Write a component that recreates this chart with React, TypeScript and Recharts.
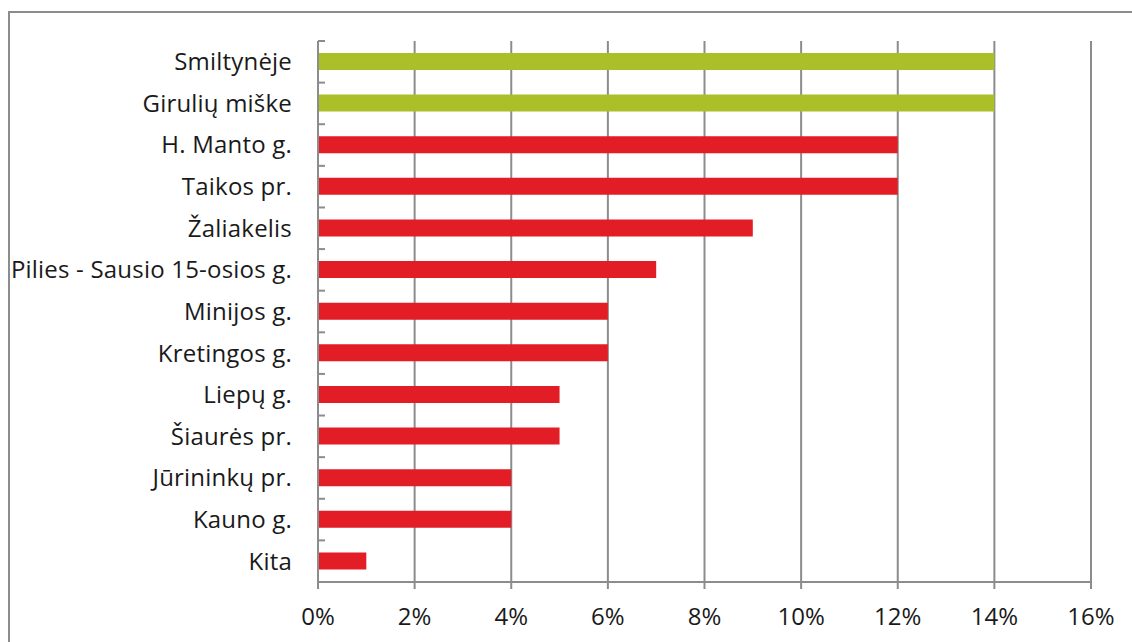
import { BarChart, Bar, XAxis, YAxis, CartesianGrid, Cell } from "recharts";

const categories = [
  "Smiltynėje",
  "Girulių miške",
  "H. Manto g.",
  "Taikos pr.",
  "Žaliakelis",
  "Pilies - Sausio 15-osios g.",
  "Minijos g.",
  "Kretingos g.",
  "Liepų g.",
  "Šiaurės pr.",
  "Jūrininkų pr.",
  "Kauno g.",
  "Kita",
];
const shares = [14, 14, 12, 12, 9, 7, 6, 6, 5, 5, 4, 4, 1];
const highlighted = [true, true, false, false, false, false, false, false, false, false, false, false, false];
const xTicks = [0, 2, 4, 6, 8, 10, 12, 14, 16];

const data = categories.map((name, i) => ({ name, value: shares[i], hi: highlighted[i] }));

const W = 1132;
const H = 642;
const M = { top: 41, right: 41, left: 0, bottom: 0 };
const Y_W = 318;
const X_H = 60;
const TICK = 7;
const GAP = 26;
const FONT = "'Open Sans', 'Liberation Sans', sans-serif";
const GRAY = "#8c8c8c";

const band = (H - M.top - M.bottom - X_H) / categories.length;

const CatTick = (props: any) => {
  const { x, y, payload, index } = props;
  const ax = x + TICK + GAP;
  return (
    <g>
      <text x={x} y={y} dy="0.35em" textAnchor="end" fontSize={24} fill="#1a1a1a" fontFamily={FONT} letterSpacing={0.2}>
        {payload.value}
      </text>
      <line x1={ax - TICK} x2={ax} y1={y - band / 2} y2={y - band / 2} stroke={GRAY} strokeWidth={2} />
      {index === categories.length - 1 && (
        <line x1={ax - TICK} x2={ax} y1={y + band / 2} y2={y + band / 2} stroke={GRAY} strokeWidth={2} />
      )}
    </g>
  );
};

export default function App() {
  return (
    <div style={{ position: "absolute", left: 0, top: 0, width: W, height: H, overflow: "hidden", background: "#fff" }}>
      <div
        style={{
          position: "absolute",
          left: 8,
          top: 11,
          width: W,
          height: H,
          border: `2px solid ${GRAY}`,
          boxSizing: "border-box",
        }}
      />
      <div style={{ position: "absolute", left: 0, top: 0 }}>
        <BarChart width={W} height={H} data={data} layout="vertical" margin={M}>
          <CartesianGrid horizontal={false} stroke={GRAY} strokeWidth={2} verticalValues={xTicks} />
          <XAxis
            type="number"
            domain={[0, 16]}
            ticks={xTicks}
            height={X_H}
            tickFormatter={(v) => `${v}%`}
            tick={{ fontSize: 24, fill: "#1a1a1a", fontFamily: FONT }}
            tickSize={TICK}
            tickMargin={19}
            axisLine={{ stroke: GRAY, strokeWidth: 2 }}
            tickLine={{ stroke: GRAY, strokeWidth: 2 }}
            interval={0}
          />
          <YAxis
            type="category"
            dataKey="name"
            width={Y_W}
            tick={<CatTick />}
            tickSize={TICK}
            tickMargin={GAP - 7}
            tickLine={false}
            axisLine={{ stroke: GRAY, strokeWidth: 2 }}
            interval={0}
          />
          <Bar dataKey="value" barSize={17} isAnimationActive={false}>
            {data.map((d, i) => (
              <Cell key={i} fill={d.hi ? "#aabf28" : "#e31d25"} />
            ))}
          </Bar>
        </BarChart>
      </div>
    </div>
  );
}
